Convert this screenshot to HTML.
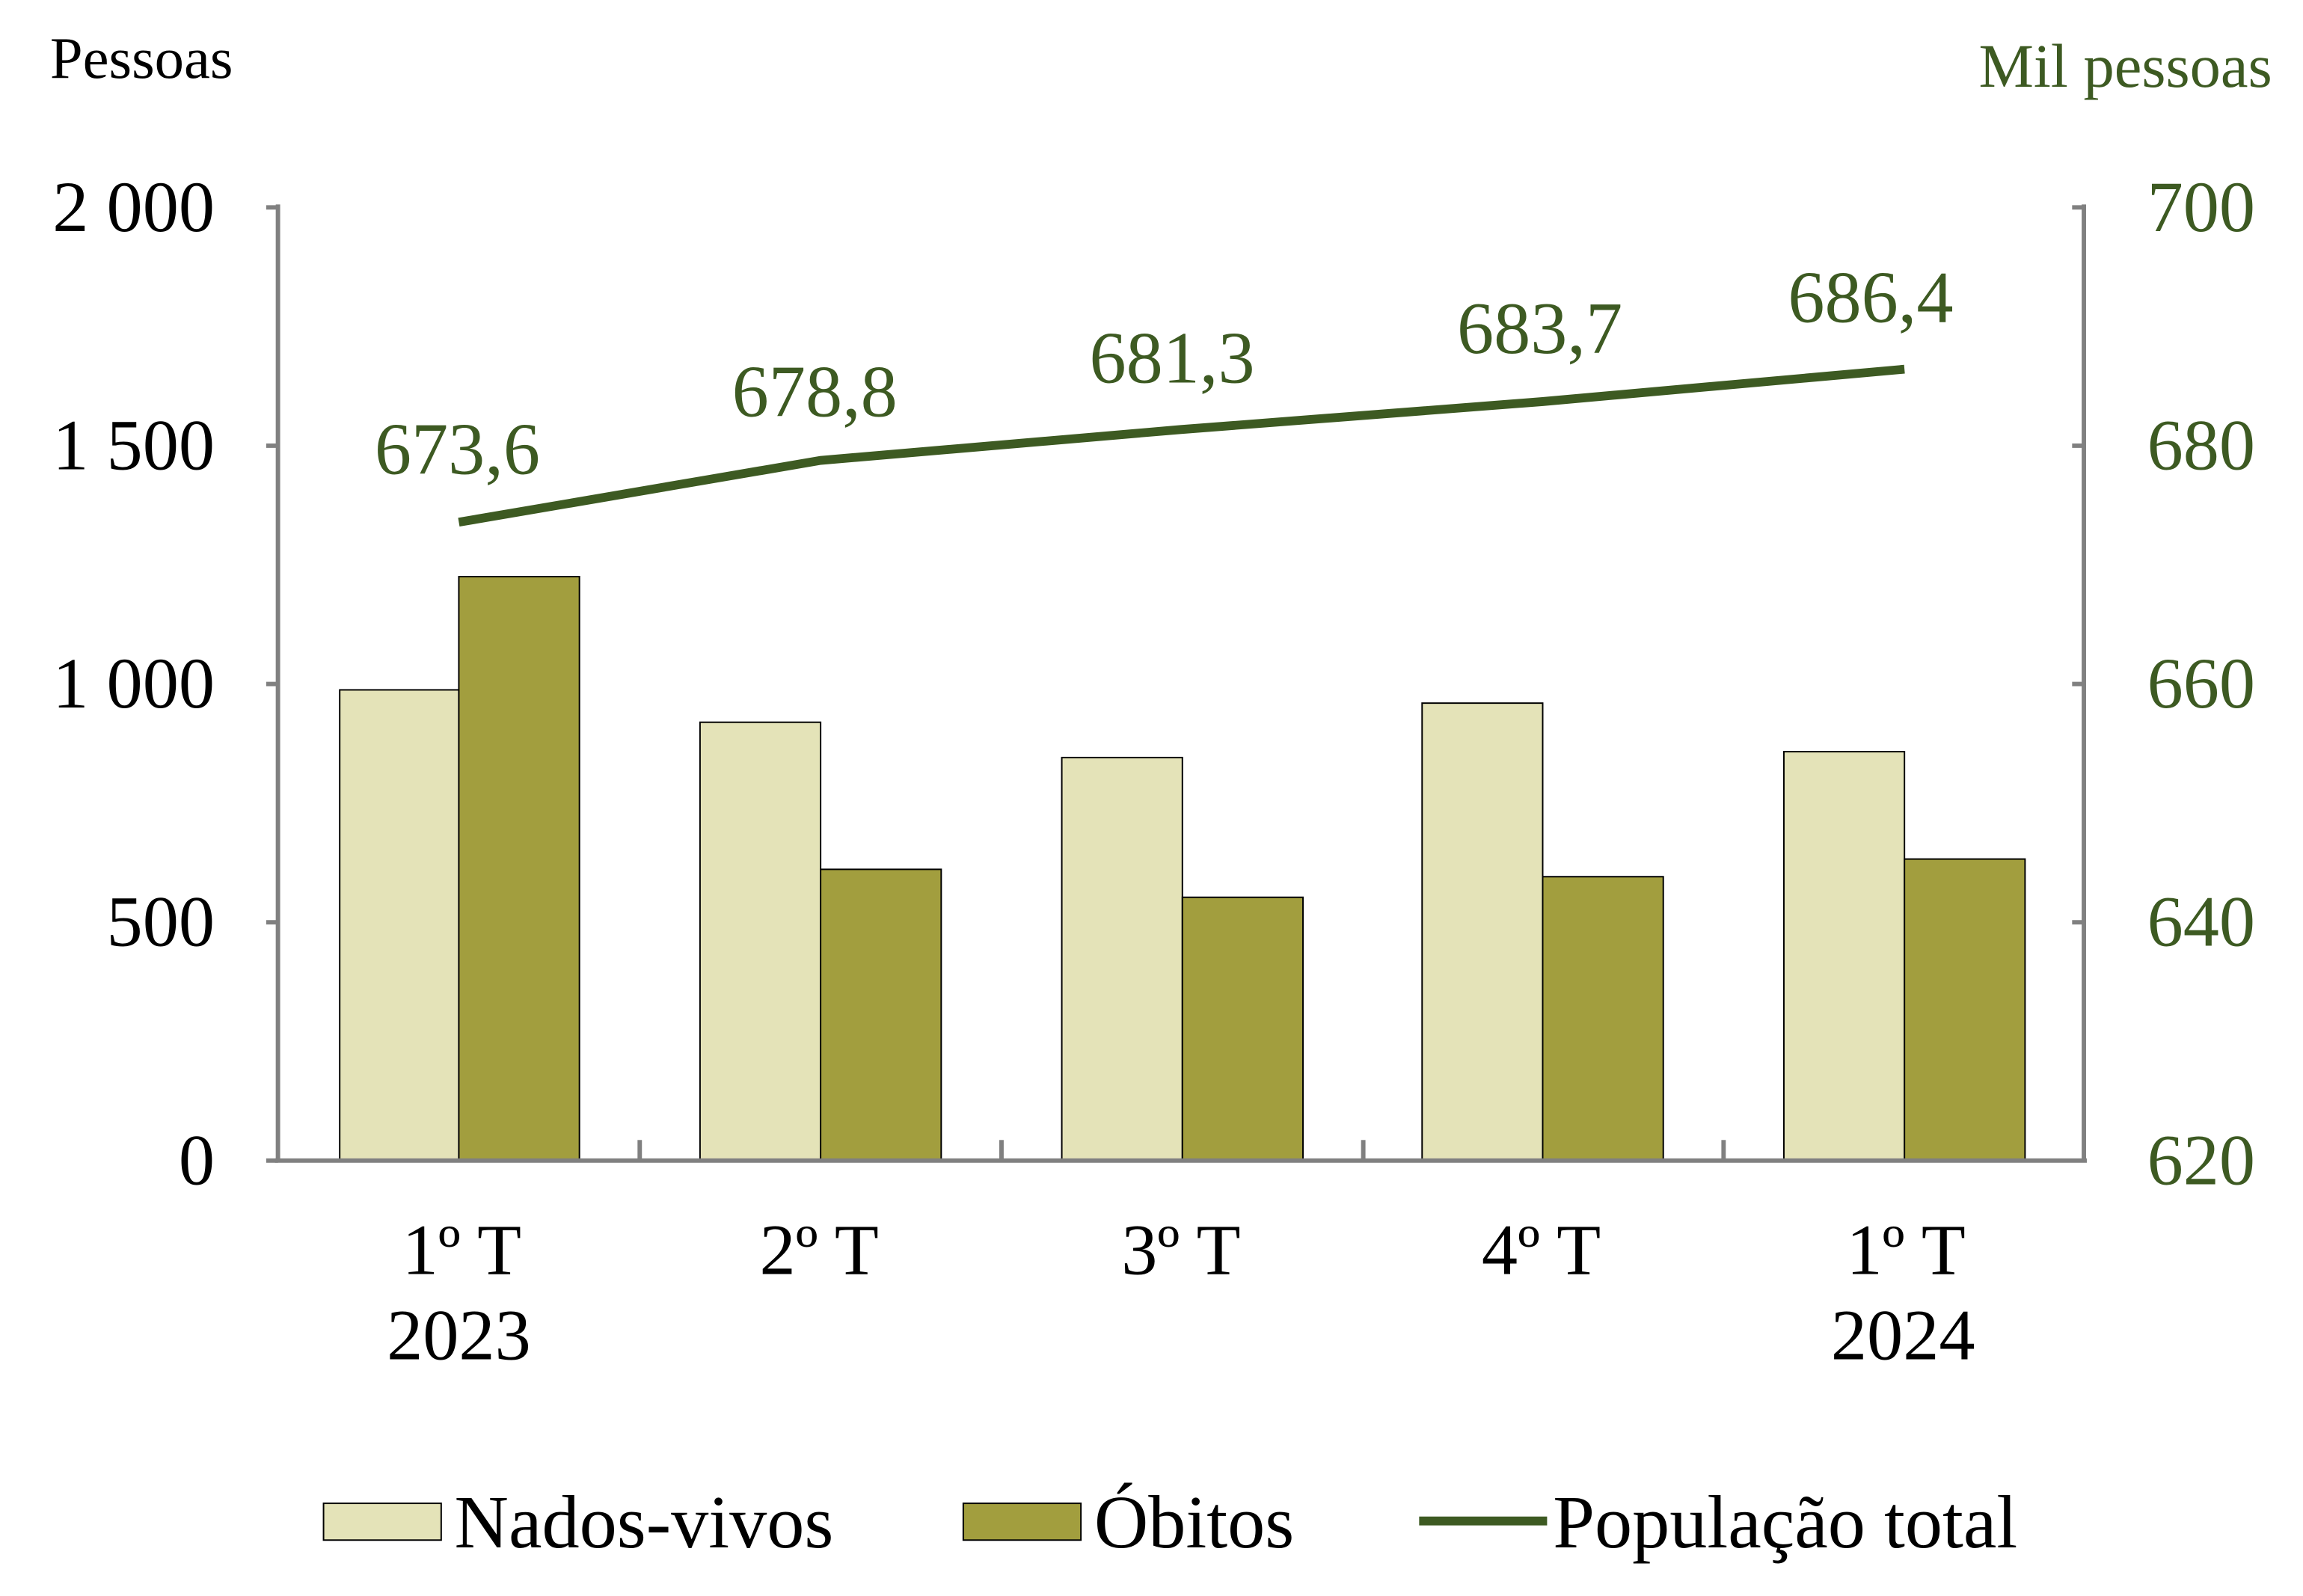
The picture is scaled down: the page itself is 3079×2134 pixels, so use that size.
<!DOCTYPE html>
<html><head><meta charset="utf-8"><style>
html,body{margin:0;padding:0;background:#fff;}
svg{display:block;}
text{font-family:"Liberation Serif",serif;}
</style></head><body>
<svg width="3079" height="2134" viewBox="0 0 1566 1085" preserveAspectRatio="none" xmlns="http://www.w3.org/2000/svg">
<rect width="1566" height="1085" fill="#fff"/>
<text x="34" y="53" font-size="40" fill="#000">Pessoas</text>
<text x="1545" y="59" font-size="42" fill="#3d5a22" text-anchor="end">Mil pessoas</text>
<g stroke="#000" stroke-width="1">
<rect x="231" y="469" width="81" height="320" fill="#e4e3b8"/>
<rect x="312" y="392" width="82" height="397" fill="#a29e3e"/>
<rect x="476" y="491" width="82" height="298" fill="#e4e3b8"/>
<rect x="558" y="591" width="82" height="198" fill="#a29e3e"/>
<rect x="722" y="515" width="82" height="274" fill="#e4e3b8"/>
<rect x="804" y="610" width="82" height="179" fill="#a29e3e"/>
<rect x="967" y="478" width="82" height="311" fill="#e4e3b8"/>
<rect x="1049" y="596" width="82" height="193" fill="#a29e3e"/>
<rect x="1213" y="511" width="82" height="278" fill="#e4e3b8"/>
<rect x="1295" y="584" width="82" height="205" fill="#a29e3e"/>
</g>
<g stroke="#808080" stroke-width="3" fill="none">
<line x1="189" y1="139" x2="189" y2="790"/>
<line x1="1417" y1="139" x2="1417" y2="790"/>
<line x1="187" y1="789" x2="1419" y2="789"/>
<line x1="181" y1="141" x2="189" y2="141"/><line x1="181" y1="303" x2="189" y2="303"/><line x1="181" y1="465" x2="189" y2="465"/><line x1="181" y1="627" x2="189" y2="627"/><line x1="181" y1="789" x2="189" y2="789"/>
<line x1="1409" y1="141" x2="1417" y2="141"/><line x1="1409" y1="303" x2="1417" y2="303"/><line x1="1409" y1="465" x2="1417" y2="465"/><line x1="1409" y1="627" x2="1417" y2="627"/>
<line x1="435" y1="775" x2="435" y2="789"/><line x1="681" y1="775" x2="681" y2="789"/><line x1="927" y1="775" x2="927" y2="789"/><line x1="1172" y1="775" x2="1172" y2="789"/>
</g>
<g font-size="49" fill="#000" text-anchor="end">
<text x="146" y="157">2 000</text><text x="146" y="319">1 500</text><text x="146" y="481">1 000</text><text x="146" y="643">500</text><text x="146" y="805">0</text>
</g>
<g font-size="49" fill="#3d5a22">
<text x="1460" y="157">700</text><text x="1460" y="319">680</text><text x="1460" y="481">660</text><text x="1460" y="643">640</text><text x="1460" y="805">620</text>
</g>
<g font-size="49" fill="#000" text-anchor="middle">
<text x="314" y="866">1º T</text><text x="312" y="924">2023</text>
<text x="557" y="866">2º T</text>
<text x="803" y="866">3º T</text>
<text x="1048" y="866">4º T</text>
<text x="1296" y="866">1º T</text><text x="1294" y="924">2024</text>
</g>
<polyline points="312,355 558,313 803,292 1049,273 1295,251" fill="none" stroke="#3d5a22" stroke-width="6"/>
<g font-size="50" fill="#3d5a22" text-anchor="middle">
<text x="311" y="322">673,6</text><text x="554" y="283">678,8</text><text x="797" y="260">681,3</text><text x="1047" y="240">683,7</text><text x="1272" y="219">686,4</text>
</g>
<rect x="220" y="1022" width="80" height="25" fill="#e4e3b8" stroke="#000" stroke-width="1"/>
<text x="309" y="1052" font-size="51">Nados-vivos</text>
<rect x="655" y="1022" width="80" height="25" fill="#a29e3e" stroke="#000" stroke-width="1"/>
<text x="744" y="1052" font-size="51">Óbitos</text>
<line x1="965" y1="1034" x2="1052" y2="1034" stroke="#3d5a22" stroke-width="6"/>
<text x="1056" y="1052" font-size="51">População total</text>
</svg>
</body></html>
